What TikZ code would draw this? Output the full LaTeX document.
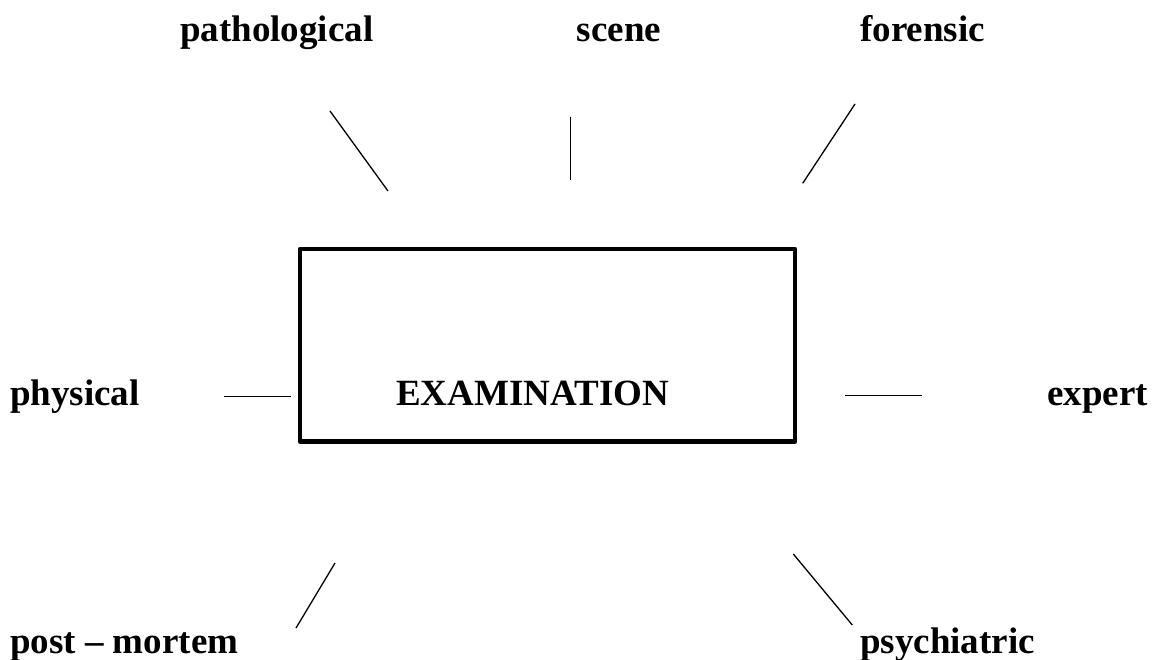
\documentclass[tikz,border=0pt]{standalone}
\usepackage{fontspec}
\setmainfont{Liberation Serif}
\begin{document}
\begin{tikzpicture}[x=1pt,y=-1pt,
  lbl/.style={anchor=base west,inner sep=0pt,font=\fontsize{37}{40}\selectfont\bfseries},
  lblc/.style={anchor=base,inner sep=0pt,font=\fontsize{37}{40}\selectfont\bfseries},
  spoke/.style={line width=1.3pt},
  frame/.style={draw,line width=4.5pt,line join=round,inner sep=0pt,minimum width=495pt,minimum height=192.5pt}]
\useasboundingbox (0,0) rectangle (1157,659);
% central box
\node[frame] (box) at (547.5,345.25) {};
\node[lbl] (exam) at (396,405) {EXAMINATION};
% labels
\node[lbl] (path) at (180,41) {pathological};
\node[lblc] (scene) at (619,41) {scene};
\node[lbl] (foren) at (860,41) {forensic};
\node[lbl] (phys) at (10,405) {physical};
\node[lbl] (expert) at (1047,405) {expert};
\node[lbl] (post) at (10,653) {post – mortem};
\node[lbl] (psych) at (860,653) {psychiatric};
% spoke end points
\coordinate (p1) at (330,111); \coordinate (p2) at (388,191);
\coordinate (s1) at (570.7,116.7); \coordinate (s2) at (570.7,180);
\coordinate (f1) at (855,104); \coordinate (f2) at (802.7,183.3);
\coordinate (l1) at (224,396.7); \coordinate (l2) at (290.7,396.7);
\coordinate (r1) at (845,395.7); \coordinate (r2) at (921.7,395.7);
\coordinate (m1) at (335,563); \coordinate (m2) at (296,628);
\coordinate (c1) at (793.3,554); \coordinate (c2) at (852.3,625);
% spokes
\draw[spoke] (p1) -- (p2);
\draw[spoke] (s1) -- (s2);
\draw[spoke] (f1) -- (f2);
\draw[spoke] (l1) -- (l2);
\draw[spoke] (r1) -- (r2);
\draw[spoke] (m1) -- (m2);
\draw[spoke] (c1) -- (c2);
\end{tikzpicture}
\end{document}
